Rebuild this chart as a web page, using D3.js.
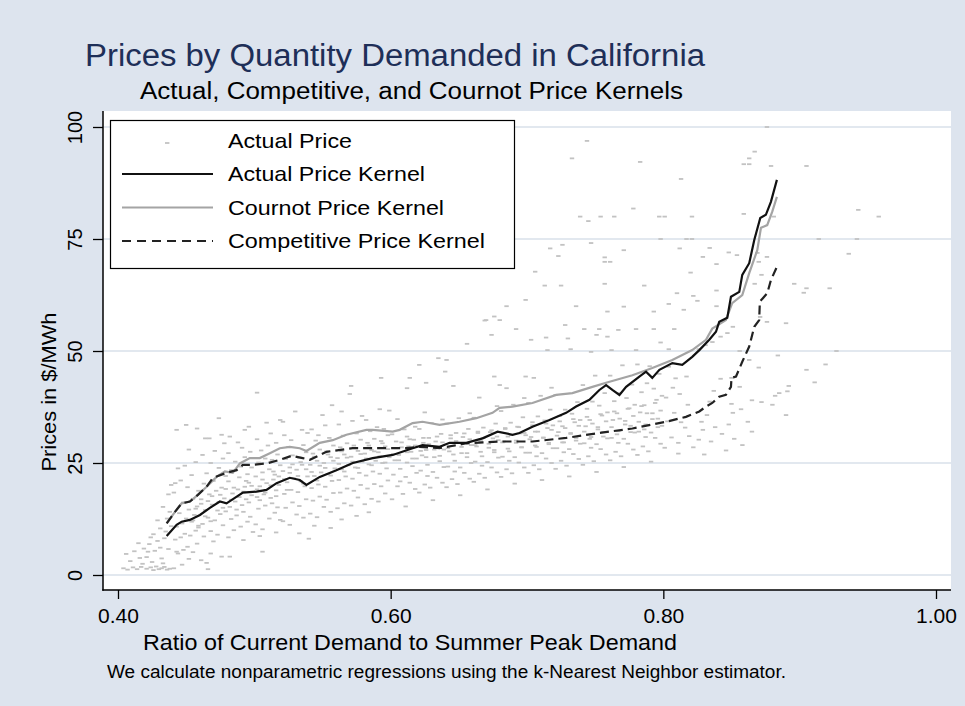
<!DOCTYPE html>
<html>
<head>
<meta charset="utf-8">
<script src="https://cdn.jsdelivr.net/npm/d3@7"></script>
<style>
  body { margin: 0; background: #dde4ee; }
  svg { display: block; }
  text { font-family: "Liberation Sans", Arial, sans-serif; }
</style>
</head>
<body>
<div class="content"></div>
<script>
const demandTicks = [0.4, 0.6, 0.8, 1.0];
const priceTicks = [0, 25, 50, 75, 100];
const legendLabels = ["Actual Price", "Actual Price Kernel", "Cournot Price Kernel", "Competitive Price Kernel"];

// kernel estimates [demand ratio, $/MWh]
const actualKernel = [[0.4357,8.7],[0.4430,11.2],[0.4467,11.9],[0.4527,12.3],[0.4601,13.4],[0.4674,15.0],[0.4747,16.4],[0.4796,16.0],[0.4857,17.2],[0.4916,18.4],[0.5016,18.6],[0.5089,19.0],[0.5163,20.5],[0.5260,21.7],[0.5333,21.2],[0.5382,20.1],[0.5480,21.9],[0.5602,23.4],[0.5722,25.0],[0.5868,26.1],[0.6015,26.8],[0.6161,28.3],[0.6234,29.0],[0.6359,28.6],[0.6432,29.5],[0.6555,29.5],[0.6674,30.5],[0.6784,32.0],[0.6894,31.3],[0.6945,31.7],[0.7040,33.1],[0.7165,34.6],[0.7287,36.2],[0.7360,37.6],[0.7458,39.1],[0.7531,41.3],[0.7580,42.4],[0.7626,41.3],[0.7678,40.2],[0.7727,42.0],[0.7824,44.3],[0.7873,45.4],[0.7919,44.0],[0.7971,45.8],[0.8066,47.3],[0.8139,46.9],[0.8212,48.7],[0.8264,50.2],[0.8337,52.5],[0.8386,54.3],[0.8410,56.5],[0.8469,57.4],[0.8496,62.1],[0.8557,63.2],[0.8579,67.0],[0.8630,69.6],[0.8667,74.8],[0.8711,79.7],[0.8752,80.4],[0.8789,83.3],[0.8833,88.2]];

const cournotKernel = [[0.4357,11.5],[0.4418,14.1],[0.4467,16.0],[0.4527,16.4],[0.4586,17.9],[0.4650,19.7],[0.4723,21.9],[0.4784,23.1],[0.4842,22.8],[0.4894,24.9],[0.4967,26.1],[0.5040,26.1],[0.5114,27.2],[0.5187,28.3],[0.5260,28.6],[0.5333,28.3],[0.5382,27.7],[0.5480,29.5],[0.5575,30.1],[0.5675,31.3],[0.5822,32.4],[0.5868,32.4],[0.6015,32.0],[0.6066,32.4],[0.6161,33.9],[0.6234,34.2],[0.6359,33.5],[0.6505,34.2],[0.6628,35.0],[0.6747,36.2],[0.6799,37.3],[0.6894,37.6],[0.7040,38.4],[0.7214,40.2],[0.7333,40.6],[0.7480,42.0],[0.7580,42.9],[0.7773,44.6],[0.7919,46.2],[0.8066,48.0],[0.8212,50.2],[0.8313,52.5],[0.8359,55.0],[0.8459,56.9],[0.8505,60.7],[0.8579,62.5],[0.8630,67.4],[0.8689,72.5],[0.8716,77.5],[0.8762,78.1],[0.8799,81.1],[0.8833,84.4]];

const competitiveKernel = [[0.4357,11.5],[0.4418,14.1],[0.4467,16.0],[0.4527,16.4],[0.4586,17.9],[0.4650,19.7],[0.4696,21.7],[0.4796,22.8],[0.4870,23.4],[0.4916,24.6],[0.4989,24.6],[0.5089,24.9],[0.5187,25.7],[0.5273,26.6],[0.5355,26.1],[0.5407,25.7],[0.5529,27.5],[0.5722,28.3],[0.5919,28.3],[0.6115,28.3],[0.6212,28.6],[0.6359,28.3],[0.6555,29.4],[0.6799,29.8],[0.7040,29.8],[0.7287,30.6],[0.7531,31.7],[0.7773,32.7],[0.8020,34.2],[0.8166,35.3],[0.8264,36.5],[0.8313,37.6],[0.8359,38.4],[0.8410,39.8],[0.8459,40.2],[0.8496,42.0],[0.8500,44.0],[0.8533,44.3],[0.8579,47.6],[0.8630,51.0],[0.8667,55.4],[0.8703,56.9],[0.8708,61.0],[0.8762,62.9],[0.8789,65.8],[0.8833,68.8]];

// hourly observations [demand ratio, $/MWh]
const actualPrice = [
[0.404,1.5],[0.407,1.2],[0.411,1.7],[0.414,1.3],[0.417,1.8],[0.406,4.7],[0.412,5.3],[0.416,3.8],[0.419,5.9],[0.418,2.5],[0.409,3.1],[0.415,7.1],
[0.421,1.4],[0.424,1.7],[0.426,1.1],[0.428,1.9],[0.430,1.3],[0.432,1.5],[0.434,1.8],[0.436,1.2],[0.438,1.4],[0.425,2.9],[0.433,2.6],
[0.422,5.2],[0.423,6.9],[0.427,5.4],[0.429,7.6],[0.431,6.1],[0.434,8.2],[0.435,9.7],[0.437,5.8],[0.439,10.9],[0.426,9.1],[0.431,10.4],[0.436,12.6],[0.438,14.1],[0.433,15.2],[0.437,18.0],[0.439,20.1],[0.429,12.2],[0.424,8.4],[0.421,4.0],[0.432,3.7],
[0.441,1.5],[0.443,5.2],[0.447,2.3],[0.452,3.6],[0.444,4.8],[0.448,5.6],[0.451,6.3],[0.455,5.1],[0.458,7.0],[0.442,7.9],[0.446,8.4],[0.449,9.2],[0.453,8.8],[0.457,9.9],[0.459,10.6],[0.443,10.8],[0.447,11.5],[0.450,12.6],[0.454,11.9],[0.456,13.4],[0.445,13.8],[0.452,14.6],[0.458,15.3],[0.448,16.2],[0.455,17.0],[0.441,18.4],[0.451,19.6],[0.459,18.8],[0.446,21.1],[0.454,22.3],[0.444,23.8],[0.449,24.4],[0.457,25.2],[0.452,28.0],[0.443,32.4],[0.450,33.5],[0.458,32.7],[0.442,20.5],
[0.461,3.3],[0.465,2.7],[0.466,1.3],[0.470,7.5],[0.463,8.6],[0.468,9.8],[0.473,9.0],[0.477,11.1],[0.462,11.4],[0.466,12.8],[0.471,12.2],[0.475,13.6],[0.479,14.2],[0.464,14.5],[0.469,15.7],[0.474,16.3],[0.478,17.1],[0.461,16.9],[0.467,18.0],[0.472,18.8],[0.476,19.5],[0.463,20.4],[0.470,21.0],[0.479,22.1],[0.465,22.7],[0.474,23.9],[0.468,25.0],[0.477,26.0],[0.462,26.8],[0.471,27.7],[0.464,30.5],[0.467,30.5],[0.476,31.3],[0.474,35.0],[0.478,29.4],[0.468,4.8],[0.476,4.1],
[0.481,8.4],[0.482,4.1],[0.485,10.0],[0.490,10.8],[0.495,11.9],[0.499,9.6],[0.483,12.5],[0.487,13.3],[0.492,14.1],[0.497,13.0],[0.482,15.2],[0.486,16.4],[0.491,15.6],[0.494,16.9],[0.498,17.8],[0.484,18.2],[0.488,19.1],[0.493,19.7],[0.496,20.6],[0.481,20.9],[0.489,21.8],[0.495,22.5],[0.483,23.4],[0.490,24.2],[0.498,24.0],[0.486,25.3],[0.493,26.3],[0.481,27.2],[0.491,28.4],[0.497,27.5],[0.482,30.9],[0.493,32.4],[0.488,29.6],[0.496,33.1],[0.492,7.8],
[0.501,11.3],[0.502,40.7],[0.506,5.2],[0.506,10.2],[0.511,12.6],[0.515,13.9],[0.519,12.3],[0.503,14.8],[0.508,15.5],[0.513,16.0],[0.517,15.1],[0.502,17.4],[0.507,18.0],[0.512,17.2],[0.516,18.9],[0.504,19.8],[0.509,20.5],[0.514,21.3],[0.518,20.1],[0.501,22.0],[0.506,22.9],[0.511,23.6],[0.515,22.4],[0.519,24.5],[0.503,25.1],[0.508,26.0],[0.513,25.7],[0.517,26.9],[0.505,27.8],[0.510,28.9],[0.516,29.5],[0.502,30.3],[0.509,34.0],[0.519,34.6],[0.512,31.6],[0.504,8.7],[0.516,9.5],
[0.521,12.0],[0.521,34.2],[0.526,11.2],[0.531,13.5],[0.536,12.8],[0.523,15.0],[0.528,16.2],[0.533,15.4],[0.538,16.9],[0.522,18.1],[0.527,19.0],[0.532,18.5],[0.537,19.8],[0.524,20.7],[0.529,21.6],[0.534,20.9],[0.539,22.0],[0.521,23.2],[0.526,24.0],[0.531,23.5],[0.535,24.6],[0.523,25.9],[0.528,26.7],[0.533,26.2],[0.538,27.4],[0.525,28.6],[0.530,36.5],[0.536,29.0],[0.522,31.2],[0.535,32.4],[0.539,31.7],[0.527,30.1],[0.533,9.3],[0.540,8.1],
[0.541,13.7],[0.546,12.9],[0.551,15.2],[0.556,14.1],[0.543,16.6],[0.548,17.5],[0.553,16.8],[0.558,18.3],[0.542,19.4],[0.547,20.2],[0.552,19.7],[0.557,21.0],[0.544,22.1],[0.549,22.9],[0.554,22.5],[0.559,23.8],[0.541,24.6],[0.546,25.5],[0.551,25.0],[0.556,26.3],[0.543,27.1],[0.548,28.0],[0.553,27.6],[0.558,28.9],[0.545,30.0],[0.550,35.7],[0.555,30.6],[0.542,32.5],[0.552,33.4],[0.557,37.9],[0.547,31.2],[0.544,11.0],[0.556,10.5],
[0.561,14.9],[0.564,36.5],[0.566,16.0],[0.571,15.5],[0.576,17.3],[0.563,18.4],[0.568,19.3],[0.573,18.8],[0.578,20.1],[0.562,21.2],[0.567,22.0],[0.572,21.5],[0.577,22.8],[0.564,23.6],[0.569,24.5],[0.574,24.0],[0.579,25.3],[0.561,26.1],[0.566,26.9],[0.571,26.4],[0.576,27.7],[0.563,28.5],[0.568,29.4],[0.573,28.9],[0.578,30.2],[0.565,31.1],[0.570,40.4],[0.571,42.2],[0.575,31.6],[0.562,33.6],[0.572,34.4],[0.579,35.5],[0.564,12.4],[0.575,13.2],
[0.581,15.8],[0.586,17.0],[0.591,16.4],[0.596,18.2],[0.583,19.3],[0.588,20.3],[0.593,19.8],[0.598,21.1],[0.582,22.2],[0.587,23.1],[0.592,22.6],[0.597,23.8],[0.584,24.7],[0.589,25.5],[0.594,25.0],[0.599,26.3],[0.581,27.1],[0.586,27.9],[0.591,27.4],[0.596,28.7],[0.583,29.5],[0.588,30.4],[0.593,29.9],[0.598,31.2],[0.585,32.1],[0.590,33.0],[0.595,32.6],[0.582,34.6],[0.592,37.0],[0.593,44.0],[0.599,36.7],[0.584,14.0],
[0.601,16.9],[0.605,19.8],[0.609,18.1],[0.614,20.6],[0.618,19.2],[0.602,22.4],[0.607,23.7],[0.611,21.9],[0.616,24.3],[0.619,22.8],[0.603,25.6],[0.606,26.8],[0.612,25.1],[0.615,27.5],[0.604,28.3],[0.608,29.6],[0.613,28.7],[0.617,30.2],[0.601,31.4],[0.610,32.5],[0.618,33.1],[0.605,34.8],[0.612,41.7],[0.614,44.0],[0.611,15.3],[0.619,26.0],[0.607,20.9],[0.612,30.9],
[0.621,18.4],[0.621,46.9],[0.625,20.2],[0.629,19.5],[0.634,21.7],[0.638,20.6],[0.622,23.3],[0.627,24.6],[0.631,23.0],[0.636,25.4],[0.639,24.1],[0.623,26.7],[0.626,27.9],[0.632,26.3],[0.635,28.4],[0.624,29.5],[0.628,30.6],[0.633,29.8],[0.637,31.5],[0.621,32.6],[0.630,33.9],[0.638,34.7],[0.625,36.3],[0.626,42.9],[0.635,48.4],[0.631,16.7],[0.639,28.0],[0.627,22.1],
[0.641,19.6],[0.641,48.0],[0.640,45.4],[0.645,21.4],[0.649,20.3],[0.654,22.8],[0.658,21.5],[0.642,24.2],[0.647,25.5],[0.651,24.0],[0.656,26.3],[0.659,25.0],[0.643,27.6],[0.646,28.8],[0.652,27.2],[0.655,29.4],[0.644,30.5],[0.648,31.7],[0.653,30.8],[0.657,32.6],[0.641,33.8],[0.650,35.0],[0.658,36.1],[0.646,42.2],[0.656,51.6],[0.651,17.8],[0.659,29.0],[0.647,23.1],
[0.661,20.8],[0.665,22.6],[0.669,21.7],[0.674,24.0],[0.678,22.9],[0.662,25.3],[0.667,26.5],[0.671,25.2],[0.676,27.4],[0.679,26.2],[0.663,28.7],[0.666,29.9],[0.672,28.4],[0.675,30.5],[0.664,31.7],[0.668,32.9],[0.673,31.9],[0.677,33.8],[0.661,35.1],[0.670,56.9],[0.678,37.7],[0.665,39.6],[0.674,53.6],[0.676,44.3],[0.676,57.7],[0.671,19.1],[0.679,30.1],[0.667,24.4],[0.669,56.8],
[0.681,21.9],[0.680,42.4],[0.680,56.9],[0.685,23.6],[0.685,60.0],[0.689,22.7],[0.694,25.1],[0.698,24.0],[0.682,26.4],[0.687,27.6],[0.691,26.3],[0.696,28.5],[0.699,27.3],[0.683,29.8],[0.686,30.9],[0.692,29.5],[0.692,54.9],[0.695,31.6],[0.684,32.8],[0.688,34.0],[0.693,33.1],[0.697,35.2],[0.681,36.6],[0.690,38.0],[0.698,39.5],[0.685,41.7],[0.699,44.3],[0.699,61.4],[0.691,20.4],[0.699,31.2],[0.687,25.5],
[0.701,22.8],[0.703,52.5],[0.706,67.7],[0.705,24.5],[0.709,23.6],[0.714,26.0],[0.718,25.0],[0.702,27.3],[0.707,28.6],[0.711,27.2],[0.716,29.5],[0.719,28.3],[0.703,30.8],[0.706,32.0],[0.712,30.6],[0.715,32.8],[0.704,34.1],[0.708,35.4],[0.713,34.5],[0.717,36.9],[0.701,38.4],[0.710,40.0],[0.718,41.8],[0.705,44.0],[0.713,64.6],[0.714,53.0],[0.715,50.2],[0.717,72.9],[0.711,21.2],[0.719,33.4],[0.707,26.5],
[0.721,23.7],[0.723,71.2],[0.726,73.7],[0.725,64.6],[0.728,55.8],[0.725,25.5],[0.729,24.4],[0.734,27.0],[0.738,25.9],[0.722,28.3],[0.727,29.6],[0.731,28.1],[0.736,30.6],[0.739,29.3],[0.723,31.9],[0.726,33.2],[0.732,31.7],[0.735,34.1],[0.724,35.5],[0.728,36.9],[0.733,36.0],[0.737,38.6],[0.721,40.2],[0.730,52.8],[0.732,50.4],[0.733,93.0],[0.736,60.0],[0.739,80.0],[0.731,22.0],[0.739,34.6],[0.727,27.4],
[0.741,24.6],[0.744,96.9],[0.745,79.0],[0.747,74.1],[0.742,54.9],[0.747,49.8],[0.751,53.6],[0.745,26.5],[0.749,25.4],[0.754,28.1],[0.758,26.9],[0.742,29.4],[0.747,30.8],[0.751,29.2],[0.756,31.9],[0.759,30.5],[0.743,33.2],[0.746,34.6],[0.752,33.0],[0.755,35.6],[0.744,37.1],[0.748,38.7],[0.753,37.8],[0.757,40.6],[0.741,42.4],[0.750,44.5],[0.753,54.9],[0.754,80.0],[0.757,70.9],[0.757,69.9],[0.757,65.0],[0.759,58.8],[0.759,53.2],[0.751,23.0],[0.759,36.3],[0.747,28.4],
[0.761,25.6],[0.761,69.9],[0.762,50.2],[0.764,80.0],[0.767,54.7],[0.771,72.5],[0.771,59.9],[0.765,27.5],[0.769,26.5],[0.774,29.3],[0.778,28.0],[0.762,30.6],[0.767,32.1],[0.771,30.4],[0.776,33.3],[0.779,31.8],[0.763,34.6],[0.766,36.1],[0.772,34.4],[0.775,37.2],[0.764,38.8],[0.768,40.6],[0.773,39.5],[0.777,42.5],[0.761,44.5],[0.770,46.8],[0.778,81.8],[0.771,24.1],[0.779,38.0],[0.767,29.5],
[0.781,26.8],[0.780,54.9],[0.780,50.2],[0.783,92.2],[0.786,64.6],[0.785,28.7],[0.789,27.6],[0.794,30.6],[0.798,29.3],[0.782,32.0],[0.787,33.6],[0.791,31.8],[0.796,34.9],[0.799,33.3],[0.783,36.3],[0.786,37.9],[0.792,36.1],[0.795,39.1],[0.784,40.8],[0.788,42.8],[0.793,41.6],[0.797,44.9],[0.781,47.0],[0.790,46.6],[0.793,54.9],[0.793,58.8],[0.797,80.0],[0.798,75.0],[0.798,51.9],[0.791,25.3],[0.799,40.0],[0.787,30.8],
[0.801,28.4],[0.801,80.0],[0.804,60.5],[0.804,50.4],[0.808,54.9],[0.810,62.9],[0.812,72.9],[0.813,88.4],[0.815,59.2],[0.817,75.0],[0.806,30.7],[0.811,29.5],[0.816,32.9],[0.803,34.3],[0.808,36.2],[0.813,34.1],[0.818,38.0],[0.802,39.6],[0.807,41.8],[0.812,40.4],[0.817,44.3],[0.804,46.5],[0.809,43.9],[0.811,27.1],[0.819,31.0],
[0.821,80.0],[0.821,75.0],[0.820,67.5],[0.822,62.3],[0.825,61.2],[0.826,50.4],[0.829,71.0],[0.834,73.0],[0.831,51.3],[0.836,52.0],[0.839,69.4],[0.839,63.5],[0.839,60.0],[0.829,32.4],[0.828,34.2],[0.832,35.7],[0.834,38.7],[0.837,41.1],[0.842,53.2],[0.842,43.8],[0.847,54.0],[0.851,55.4],[0.850,44.0],[0.850,38.2],[0.851,36.2],[0.848,72.0],[0.854,71.4],[0.856,50.0],[0.856,42.0],[0.857,37.0],
[0.822,28.5],[0.826,30.2],[0.830,26.9],[0.835,29.8],[0.838,33.0],[0.843,31.5],[0.846,27.8],[0.852,30.4],[0.858,29.0],[0.848,33.6],
[0.859,80.6],[0.859,91.7],[0.863,93.0],[0.863,91.7],[0.867,94.5],[0.862,34.2],[0.863,48.0],[0.865,32.0],[0.865,39.0],[0.867,65.0],[0.869,71.9],[0.870,69.9],[0.870,46.3],[0.872,67.0],[0.872,38.6],[0.871,57.6],[0.876,100.0],[0.876,71.0],[0.876,56.5],[0.879,91.3],[0.881,80.0],[0.880,38.0],[0.882,40.0],[0.884,49.0],[0.885,40.6],[0.890,35.7],[0.890,56.2],[0.891,41.0],[0.892,42.2],[0.896,65.0],
[0.905,91.3],[0.903,63.0],[0.905,64.0],[0.905,45.8],[0.911,43.0],[0.914,75.0],[0.919,47.0],[0.922,64.0],[0.927,50.0],[0.936,71.7],[0.942,75.0],[0.943,81.5],[0.958,80.0],
// dense core of the cloud
[0.455,12.2],[0.457,14.8],[0.459,11.0],[0.461,15.9],[0.464,13.1],[0.466,16.5],[0.468,12.0],[0.469,17.6],
[0.473,14.4],[0.475,17.9],[0.477,15.0],[0.479,19.2],[0.483,16.8],[0.485,19.5],[0.487,14.6],[0.489,17.4],
[0.492,18.6],[0.494,21.0],[0.496,16.2],[0.498,19.9],[0.502,19.1],[0.504,16.7],[0.506,21.3],[0.508,18.4],
[0.512,20.0],[0.514,23.1],[0.516,17.6],[0.518,22.0],[0.522,21.4],[0.524,19.0],[0.526,22.8],[0.528,24.7],
[0.532,22.1],[0.534,25.2],[0.536,20.4],[0.538,23.6],[0.542,23.0],[0.544,26.4],[0.546,21.1],[0.548,24.4],
[0.552,23.9],[0.554,26.9],[0.556,22.2],[0.558,25.5],[0.562,24.8],[0.564,27.6],[0.566,23.1],[0.568,26.2],
[0.572,25.3],[0.574,28.3],[0.576,23.9],[0.578,27.0],[0.582,26.0],[0.584,28.9],[0.586,24.5],[0.588,27.6],
[0.592,26.5],[0.594,29.4],[0.596,25.1],[0.598,28.1],[0.602,27.0],[0.604,29.8],[0.606,25.6],[0.608,28.5],
[0.612,27.4],[0.614,30.3],[0.616,26.0],[0.618,28.9],[0.622,27.7],[0.624,30.6],[0.626,26.3],[0.628,29.2],
[0.632,28.0],[0.634,30.9],[0.636,26.6],[0.638,29.6],[0.642,28.3],[0.644,31.2],[0.646,26.9],[0.648,29.9],
[0.652,28.6],[0.654,31.6],[0.656,27.2],[0.658,30.3],[0.662,29.0],[0.664,32.0],[0.666,27.5],[0.668,30.6],
[0.672,29.3],[0.674,32.3],[0.676,27.9],[0.678,30.9],[0.682,29.6],[0.684,32.6],[0.686,28.2],[0.688,31.3],
[0.692,30.0],[0.694,33.0],[0.696,28.5],[0.698,31.7],[0.702,30.3],[0.704,33.4],[0.706,28.9],[0.708,32.0],
[0.712,30.7],[0.714,33.8],[0.716,29.2],[0.718,32.4],[0.722,31.1],[0.724,34.3],[0.726,29.6],[0.728,32.8],
[0.732,31.5],[0.734,34.8],[0.736,30.0],[0.738,33.3],[0.742,32.0],[0.744,35.3],[0.746,30.4],[0.748,33.8],
[0.752,32.5],[0.754,35.9],[0.756,30.9],[0.758,34.3],[0.762,33.0],[0.764,36.5],[0.766,31.4],[0.768,34.9],
[0.772,33.6],[0.774,37.1],[0.776,31.9],[0.778,35.5],[0.782,34.2],[0.784,37.7],[0.786,32.5],[0.788,36.1],
[0.792,34.8],[0.794,38.4],[0.796,33.0],[0.798,36.7]
];

const width = 965;
const height = 706;

const xScale = d3.scaleLinear().domain([0.4, 1.0]).range([118, 936]);
const yScale = d3.scaleLinear().domain([0, 100]).range([575, 127]);

const svg = d3
  .select(".content")
  .append("svg")
  .attr("width", width)
  .attr("height", height);

svg.append("rect").attr("width", width).attr("height", height).attr("fill", "#dde4ee");

//--> plot region
svg.append("rect")
  .attr("x", 103).attr("y", 111)
  .attr("width", 848).attr("height", 479)
  .attr("fill", "#fff");

//--> text helper, width fitted to the reference
const addText = (x, y, txt, size, len) => {
  const t = svg.append("text")
    .attr("x", x).attr("y", y)
    .attr("font-size", size)
    .text(txt);
  if (len) t.attr("textLength", len).attr("lengthAdjust", "spacingAndGlyphs");
  return t;
};

addText(85, 66, "Prices by Quantity Demanded in California", 31, 620).attr("fill", "#1e2f58");
addText(140, 99, "Actual, Competitive, and Cournot Price Kernels", 23.5, 543);
addText(143, 650, "Ratio of Current Demand to Summer Peak Demand", 22, 534);
addText(107, 678, "We calculate nonparametric regressions using the k-Nearest Neighbor estimator.", 17.5, 679);

svg.append("text")
  .attr("transform", "translate(56, 392) rotate(-90)")
  .attr("text-anchor", "middle")
  .attr("font-size", 21)
  .attr("textLength", 159)
  .attr("lengthAdjust", "spacingAndGlyphs")
  .text("Prices in $/MWh");

//--> grid lines
svg.append("g")
  .selectAll("line")
  .data(priceTicks)
  .enter()
  .append("line")
  .attr("x1", 103).attr("x2", 951)
  .attr("y1", d => yScale(d)).attr("y2", d => yScale(d))
  .attr("stroke", "#d8e0ea")
  .attr("stroke-width", 1.5);

//--> Y axis
const yAxisG = svg.append("g")
  .attr("transform", "translate(103, 0)")
  .call(d3.axisLeft(yScale).tickValues(priceTicks).tickSize(10).tickFormat(d3.format("d")));
yAxisG.select(".domain").remove();
yAxisG.selectAll("line").attr("stroke", "#000").attr("stroke-width", 1.3);
yAxisG.selectAll("text")
  .attr("x", 0).attr("y", -21).attr("dy", null)
  .attr("transform", "rotate(-90)")
  .attr("text-anchor", "middle")
  .attr("font-size", 20)
  .attr("font-family", "Liberation Sans, Arial, sans-serif")
  .attr("fill", "#000");

//--> X axis
const xAxisG = svg.append("g")
  .attr("transform", "translate(0, 590)")
  .call(d3.axisBottom(xScale).tickValues(demandTicks).tickSize(9).tickFormat(d3.format(".2f")));
xAxisG.select(".domain").remove();
xAxisG.selectAll("line").attr("stroke", "#000").attr("stroke-width", 1.3);
xAxisG.selectAll("text")
  .attr("y", 33).attr("dy", null)
  .attr("font-size", 21)
  .attr("font-family", "Liberation Sans, Arial, sans-serif")
  .attr("fill", "#000");

//--> axis lines
svg.append("line").attr("x1", 103).attr("x2", 103).attr("y1", 111).attr("y2", 590.7)
  .attr("stroke", "#000").attr("stroke-width", 1.5);
svg.append("line").attr("x1", 102.3).attr("x2", 951).attr("y1", 590).attr("y2", 590)
  .attr("stroke", "#000").attr("stroke-width", 1.5);

//--> scatter
svg.append("g")
  .selectAll("rect")
  .data(actualPrice)
  .enter()
  .append("rect")
  .attr("x", d => xScale(d[0]) - 2.2)
  .attr("y", d => yScale(d[1]) - 0.9)
  .attr("width", 4.4)
  .attr("height", 1.8)
  .attr("fill", "#c2c2c2");

//--> kernels
const line = d3.line().x(d => xScale(d[0])).y(d => yScale(d[1]));

svg.append("path").datum(cournotKernel)
  .attr("d", line).attr("fill", "none")
  .attr("stroke", "#a4a4a4").attr("stroke-width", 2.2);

svg.append("path").datum(competitiveKernel)
  .attr("d", line).attr("fill", "none")
  .attr("stroke", "#222").attr("stroke-width", 2.2)
  .attr("stroke-dasharray", "9,5");

svg.append("path").datum(actualKernel)
  .attr("d", line).attr("fill", "none")
  .attr("stroke", "#111").attr("stroke-width", 2.2);

//--> legend
const legend = svg.append("g").attr("id", "legend");

legend.append("rect")
  .attr("x", 110.5).attr("y", 120.5)
  .attr("width", 404).attr("height", 148)
  .attr("fill", "#fff")
  .attr("stroke", "#000")
  .attr("stroke-width", 1.2);

legend.append("rect")
  .attr("x", 165).attr("y", 142.1)
  .attr("width", 4.4).attr("height", 1.8)
  .attr("fill", "#c2c2c2");

const keyStyles = [
  null,
  { stroke: "#111", dash: null },
  { stroke: "#a4a4a4", dash: null },
  { stroke: "#222", dash: "9,6" },
];
const legendLens = [124, 197, 216, 257];

legendLabels.forEach((lab, i) => {
  const cy = 140 + i * 33.5;
  if (keyStyles[i]) {
    legend.append("line")
      .attr("x1", 122).attr("x2", 213)
      .attr("y1", cy + 0.5).attr("y2", cy + 0.5)
      .attr("stroke", keyStyles[i].stroke)
      .attr("stroke-width", 1.8)
      .attr("stroke-dasharray", keyStyles[i].dash);
  }
  legend.append("text")
    .attr("x", 228).attr("y", cy + 7.5)
    .attr("font-size", 21)
    .attr("textLength", legendLens[i])
    .attr("lengthAdjust", "spacingAndGlyphs")
    .text(lab);
});
</script>
</body>
</html>
